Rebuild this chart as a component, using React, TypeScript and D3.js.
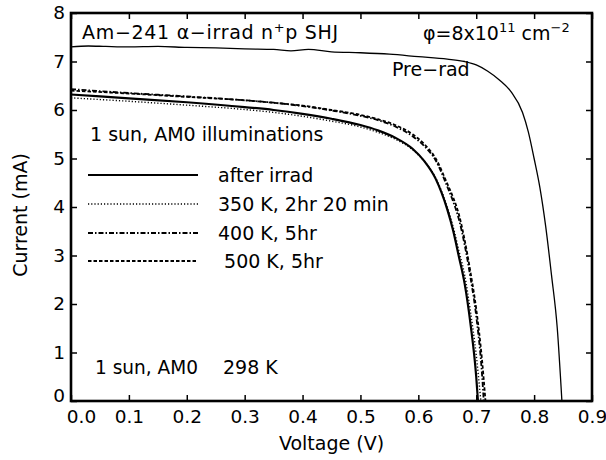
import { useEffect, useRef } from "react";
import * as d3 from "d3";

type Pt = [number, number];

// Voltage (V), current (mA)
const preRad: Pt[] = [
  [0.0, 7.3], [0.03, 7.32], [0.06, 7.31], [0.1, 7.3], [0.15, 7.31], [0.2, 7.29],
  [0.25, 7.28], [0.3, 7.26], [0.35, 7.25], [0.38, 7.22], [0.41, 7.25], [0.45, 7.2],
  [0.5, 7.18], [0.55, 7.15], [0.6, 7.1], [0.65, 7.05], [0.68, 7.0], [0.7, 6.93],
  [0.72, 6.8], [0.74, 6.62], [0.76, 6.38], [0.78, 5.95], [0.79, 5.55], [0.8, 5.0],
  [0.81, 4.4], [0.82, 3.6], [0.83, 2.6], [0.84, 1.5], [0.848, 0.0],
];

const afterIrrad: Pt[] = [
  [0.0, 6.32], [0.1, 6.24], [0.2, 6.16], [0.3, 6.06], [0.35, 6.0], [0.4, 5.92],
  [0.45, 5.82], [0.5, 5.69], [0.53, 5.58], [0.56, 5.43], [0.59, 5.2], [0.61, 4.95],
  [0.63, 4.58], [0.65, 3.95], [0.66, 3.52], [0.67, 2.98], [0.68, 2.42], [0.69, 1.6],
  [0.7, 0.5], [0.703, 0.0],
];

const k350: Pt[] = [
  [0.0, 6.25], [0.1, 6.18], [0.2, 6.1], [0.3, 6.01], [0.35, 5.95], [0.4, 5.87],
  [0.45, 5.77], [0.5, 5.65], [0.53, 5.54], [0.56, 5.4], [0.59, 5.18], [0.61, 4.95],
  [0.63, 4.6], [0.65, 4.0], [0.66, 3.6], [0.67, 3.1], [0.68, 2.6], [0.69, 1.85],
  [0.7, 0.95], [0.708, 0.0],
];

const k400: Pt[] = [
  [0.0, 6.43], [0.1, 6.35], [0.2, 6.28], [0.3, 6.2], [0.35, 6.15], [0.4, 6.08],
  [0.45, 5.99], [0.5, 5.88], [0.53, 5.79], [0.56, 5.66], [0.59, 5.46], [0.61, 5.26],
  [0.63, 4.96], [0.65, 4.42], [0.66, 4.12], [0.67, 3.75], [0.68, 3.22], [0.69, 2.55],
  [0.7, 1.75], [0.71, 0.55], [0.713, 0.0],
];

const k500: Pt[] = [
  [0.0, 6.4], [0.1, 6.34], [0.2, 6.27], [0.3, 6.2], [0.35, 6.15], [0.4, 6.09],
  [0.45, 6.0], [0.5, 5.9], [0.53, 5.81], [0.56, 5.69], [0.59, 5.5], [0.61, 5.3],
  [0.63, 5.0], [0.65, 4.48], [0.66, 4.2], [0.67, 3.85], [0.68, 3.32], [0.69, 2.66],
  [0.7, 1.9], [0.71, 0.85], [0.716, 0.0],
];

const xTicks = [0, 0.1, 0.2, 0.3, 0.4, 0.5, 0.6, 0.7, 0.8, 0.9];
const yTicks = [0, 1, 2, 3, 4, 5, 6, 7, 8];

const legendLabels = ["after irrad", "350 K, 2hr 20 min", "400 K, 5hr", " 500 K, 5hr"];

const W = 606;
const H = 460;
const M = { left: 71, right: 14, top: 13, bottom: 59 };
const FONT = "'DejaVu Sans', Verdana, sans-serif";
const FS = 19;

const styles = [
  { width: 2.2, dash: "" },
  { width: 1.4, dash: "1.2,2" },
  { width: 1.8, dash: "5,2,1.5,2" },
  { width: 1.8, dash: "3.5,2" },
];

const App = () => {
  const ref = useRef<SVGSVGElement | null>(null);

  useEffect(() => {
    if (!ref.current) return;
    const svg = d3.select(ref.current);
    svg.selectAll("*").remove();

    const x = d3.scaleLinear().domain([0, 0.9]).range([M.left, W - M.right]);
    const y = d3.scaleLinear().domain([0, 8]).range([H - M.bottom, M.top]);

    const line = d3
      .line<Pt>()
      .x((d) => x(d[0]))
      .y((d) => y(d[1]))
      .curve(d3.curveMonotoneX);

    const g = svg.append("g");

    // curves
    g.append("path")
      .attr("d", line(preRad))
      .attr("fill", "none")
      .attr("stroke", "#000")
      .attr("stroke-width", 1.3);

    [afterIrrad, k350, k400, k500].forEach((s, i) => {
      g.append("path")
        .attr("d", line(s))
        .attr("fill", "none")
        .attr("stroke", "#000")
        .attr("stroke-width", styles[i].width)
        .attr("stroke-dasharray", styles[i].dash || null);
    });

    // axes with inward ticks
    const axStyle = (sel: d3.Selection<SVGGElement, unknown, null, undefined>) => {
      sel.select(".domain").remove();
      sel.selectAll("line").attr("stroke", "#000").attr("stroke-width", 1.5);
      sel
        .selectAll("text")
        .attr("fill", "#000")
        .attr("font-size", 18.5)
        .attr("font-family", FONT);
    };

    const bottom = g
      .append("g")
      .attr("transform", `translate(0,${H - M.bottom})`)
      .call(
        d3.axisBottom(x).tickValues(xTicks).tickSizeInner(-6).tickSizeOuter(0)
          .tickPadding(9).tickFormat(d3.format(".1f"))
      );
    axStyle(bottom);
    bottom.selectAll<SVGTextElement, number>("text").attr("dx", (d) => (d === 0 ? 10 : 0));

    const left = g
      .append("g")
      .attr("transform", `translate(${M.left},0)`)
      .call(d3.axisLeft(y).tickValues(yTicks).tickSizeInner(-6).tickSizeOuter(0).tickPadding(6));
    axStyle(left);
    left.selectAll<SVGTextElement, number>("text").attr("dy", (d) => (d === 0 ? "0.05em" : "0.3em"));

    const top = g
      .append("g")
      .attr("transform", `translate(0,${M.top})`)
      .call(d3.axisTop(x).tickValues(xTicks).tickSizeInner(-6).tickSizeOuter(0).tickFormat(() => ""));
    axStyle(top);

    const right = g
      .append("g")
      .attr("transform", `translate(${W - M.right},0)`)
      .call(d3.axisRight(y).tickValues(yTicks).tickSizeInner(-6).tickSizeOuter(0).tickFormat(() => ""));
    axStyle(right);

    // frame
    g.append("rect")
      .attr("x", M.left)
      .attr("y", M.top)
      .attr("width", W - M.left - M.right)
      .attr("height", H - M.top - M.bottom)
      .attr("fill", "none")
      .attr("stroke", "#000")
      .attr("stroke-width", 2.6);

    const txt = (tx: number, ty: number, s: string, size = FS) =>
      g.append("text")
        .attr("x", tx)
        .attr("y", ty)
        .attr("font-family", FONT)
        .attr("font-size", size)
        .attr("fill", "#000")
        .attr("xml:space", "preserve")
        .text(s);

    // title annotation
    const t1 = txt(82, 39, "Am−241 α−irrad n").attr("letter-spacing", 0.7);
    t1.append("tspan").attr("dy", -7).attr("font-size", 13).text("+");
    t1.append("tspan").attr("dy", 7).text("p SHJ");

    const t2 = txt(423, 40, "φ=8x10");
    t2.append("tspan").attr("dy", -8).attr("font-size", 13).text("11");
    t2.append("tspan").attr("dy", 8).text(" cm");
    t2.append("tspan").attr("dy", -8).attr("font-size", 13).text("−2");

    txt(392, 76, "Pre−rad");
    txt(90, 141, "1 sun, AM0 illuminations");
    txt(95, 374, "1 sun, AM0")
      .attr("textLength", 103)
      .attr("lengthAdjust", "spacingAndGlyphs");
    txt(223, 374, "298 K");

    // legend
    const legY = [175, 204, 233, 261];
    legendLabels.forEach((lab, i) => {
      g.append("line")
        .attr("x1", 88)
        .attr("x2", 198)
        .attr("y1", legY[i])
        .attr("y2", legY[i])
        .attr("stroke", "#000")
        .attr("stroke-width", styles[i].width)
        .attr("stroke-dasharray", styles[i].dash || null);
      txt(218, legY[i] + 7, lab);
    });

    // axis titles
    txt(0, 0, "Voltage (V)", 19)
      .attr("x", (x(0) + x(0.9)) / 2)
      .attr("y", 450)
      .attr("text-anchor", "middle");
    txt(0, 0, "Current (mA)", 19)
      .attr("text-anchor", "middle")
      .attr("transform", `translate(27,${y(4) + 8}) rotate(-90)`);
  }, []);

  return (
    <svg
      ref={ref}
      width={W}
      height={H}
      style={{ position: "absolute", left: 0, top: 0, background: "#fff" }}
    />
  );
};

export default App;
